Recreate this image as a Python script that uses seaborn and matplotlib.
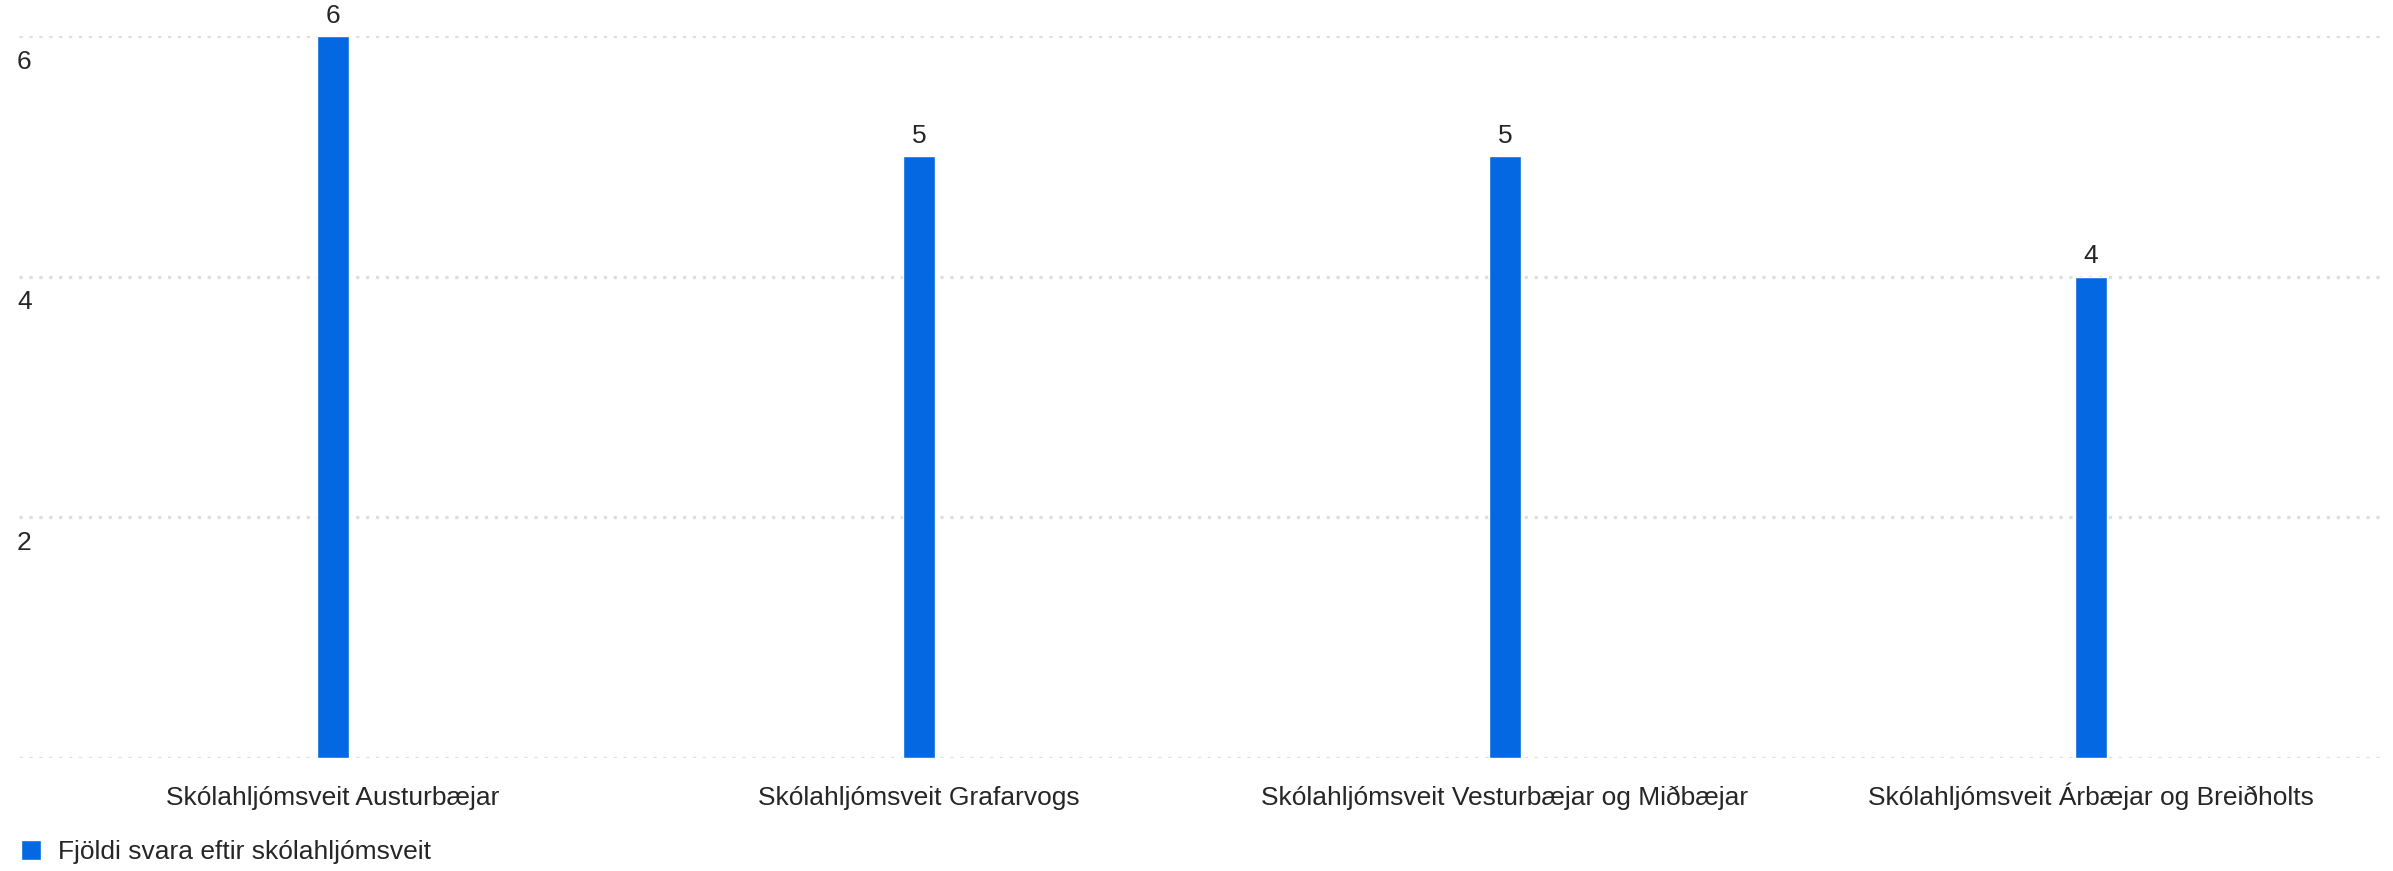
import matplotlib
matplotlib.use("Agg")
import matplotlib.pyplot as plt
from matplotlib.transforms import ScaledTranslation
import seaborn as sns
import pandas as pd

categories = [
    "Skólahljómsveit Austurbæjar",
    "Skólahljómsveit Grafarvogs",
    "Skólahljómsveit Vesturbæjar og Miðbæjar",
    "Skólahljómsveit Árbæjar og Breiðholts",
]
values = [6, 5, 5, 4]
series_name = "Fjöldi svara eftir skólahljómsveit"
ytick_values = [0, 2, 4, 6]
ytick_labels = ["", "2", "4", "6"]

BAR = "#0368E1"
TXT = "#262626"
GRID = "#dedede"
FS = 19

sns.set_theme(style="white")
plt.rcParams["font.family"] = ["Liberation Sans", "DejaVu Sans"]

df = pd.DataFrame({"cat": categories, "val": values, "series": [series_name] * len(values)})

W, H, DPI = 2393, 871, 100
fig = plt.figure(figsize=(W / DPI, H / DPI), dpi=DPI)
left_px, right_px, bottom_px, top_px = 19, 2384, 758, 36
ax = fig.add_axes([left_px / W, 1 - bottom_px / H, (right_px - left_px) / W, (bottom_px - top_px) / H])

sns.barplot(data=df, x="cat", y="val", hue="series", palette=[BAR], width=0.055,
            saturation=1, ax=ax, legend=True)

ax.set_ylim(0, 6)
ax.set_xlim(-0.536, 3.5)
ax.set_xlabel("")
ax.set_ylabel("")
for s in ax.spines.values():
    s.set_visible(False)

ax.set_yticks(ytick_values)
ax.set_yticklabels(ytick_labels)
ax.yaxis.grid(True, color=GRID, linewidth=2.3, linestyle=(0, (1, 2.1)))
ax.set_axisbelow(True)
ax.tick_params(axis="y", length=0, pad=0, labelsize=FS, labelcolor=TXT)
for lab in ax.get_yticklabels():
    lab.set_horizontalalignment("left")
    lab.set_verticalalignment("center")
    lab.set_transform(lab.get_transform() + ScaledTranslation(-0.02, -0.255, fig.dpi_scale_trans))

ax.tick_params(axis="x", length=0, pad=0, labelsize=FS, labelcolor=TXT)
for lab in ax.get_xticklabels():
    lab.set_verticalalignment("baseline")
    lab.set_transform(lab.get_transform() + ScaledTranslation(0, -0.47, fig.dpi_scale_trans))

for cont in ax.containers:
    ax.bar_label(cont, padding=6, fontsize=FS, color=TXT, clip_on=False)

sns.move_legend(ax, loc="center left", bbox_to_anchor=(21 / W, 1 - 852 / H),
                bbox_transform=fig.transFigure, frameon=False, title=None,
                fontsize=FS, handlelength=0.76, handleheight=0.76,
                handletextpad=0.65, borderpad=0, borderaxespad=0)
for t in ax.get_legend().get_texts():
    t.set_color(TXT)

fig.savefig("out.png", dpi=DPI, facecolor="white")
